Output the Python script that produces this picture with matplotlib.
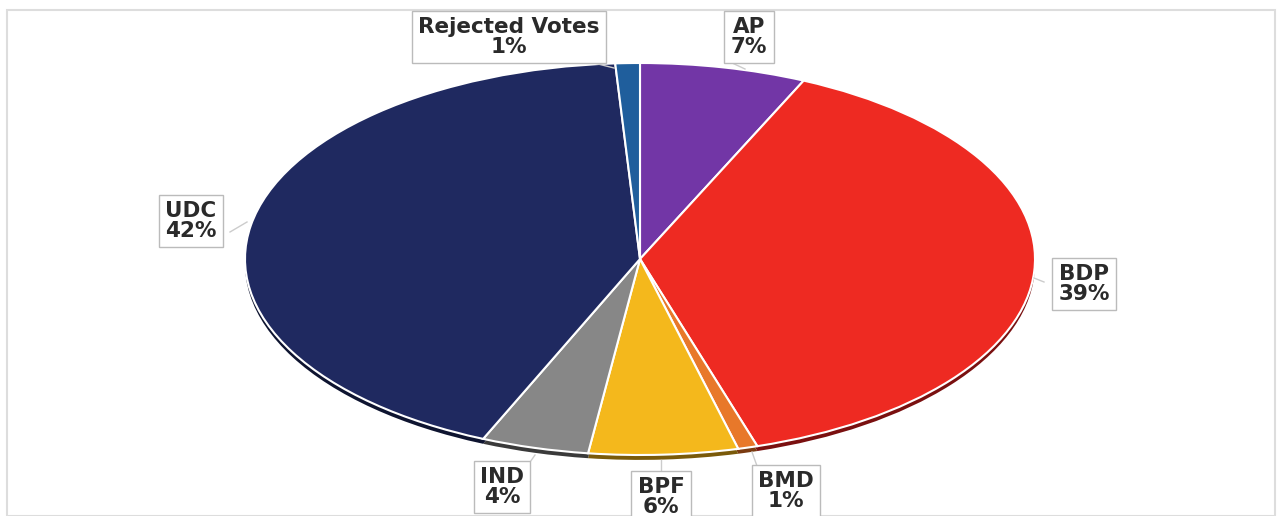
import matplotlib
matplotlib.use("Agg")
import matplotlib.pyplot as plt
from matplotlib.patches import Rectangle

parties = ["AP", "BDP", "BMD", "BPF", "IND", "UDC", "Rejected Votes"]
shares = [6.8, 38.4, 0.8, 6.1, 4.4, 42.5, 1.0]
pct_labels = ["7%", "39%", "1%", "6%", "4%", "42%", "1%"]
colors = ["#7236A6", "#EE2A22", "#E8782A", "#F4B81C", "#878787", "#1F2960", "#1F5E9C"]
shadow_colors = ["#3E1A5C", "#7A1010", "#7A3A10", "#7A5A0A", "#3A3A3A", "#0E1430", "#0E2E50"]

W, H = 1277, 516
fig = plt.figure(figsize=(W / 100, H / 100), dpi=100)
fig.patch.set_facecolor("white")

# frame
fig.patches.append(Rectangle((7 / W, 0), (W - 9) / W, (H - 10) / H, transform=fig.transFigure,
                             fill=False, edgecolor="#dddddd", linewidth=1.5))

cx, cy, rx, ry = 640, 259, 395, 196
ax = fig.add_axes([(cx - rx) / W, (H - cy - ry) / H, 2 * rx / W, 2 * ry / H])

# 3D-like rim
ax.pie(shares, colors=shadow_colors, startangle=90, counterclock=False, radius=1.0,
       center=(0, -0.025), wedgeprops=dict(linewidth=0), frame=False)
wedges, _ = ax.pie(shares, colors=colors, startangle=90, counterclock=False, radius=1.0,
                   wedgeprops=dict(edgecolor="white", linewidth=1.5), frame=False)
ax.set_aspect("auto")
ax.set_xlim(-1, 1)
ax.set_ylim(-1, 1)
ax.axis("off")
for w in ax.patches:
    w.set_clip_on(False)

# label boxes (pixel centres) and leader endpoints
label_pos = {
    "AP": (749, 37),
    "BDP": (1084, 284),
    "BMD": (786, 491),
    "BPF": (661, 497),
    "IND": (502, 487),
    "UDC": (191, 221),
    "Rejected Votes": (509, 37),
}
leaders = {
    "AP": ((730, 62), (745, 69)),
    "BDP": ((1044, 282), (1034, 278)),
    "BMD": ((757, 466), (752, 452)),
    "BPF": ((661, 470), (661, 460)),
    "IND": ((528, 465), (535, 455)),
    "UDC": ((230, 232), (247, 222)),
    "Rejected Votes": ((590, 62), (614, 68)),
}

for name, pct in zip(parties, pct_labels):
    px, py = label_pos[name]
    fig.text(px / W, 1 - py / H, f"{name}\n{pct}", ha="center", va="center",
             fontsize=15.5, fontweight="bold", color="#2a2a2a", linespacing=0.95,
             family="DejaVu Sans",
             bbox=dict(boxstyle="square,pad=0.3", facecolor="white", edgecolor="#bbbbbb", linewidth=1))
    (x0, y0), (x1, y1) = leaders[name]
    fig.add_artist(plt.Line2D([x0 / W, x1 / W], [1 - y0 / H, 1 - y1 / H], transform=fig.transFigure,
                              color="#cccccc", linewidth=1))

fig.savefig("out.png", dpi=100, facecolor="white")
